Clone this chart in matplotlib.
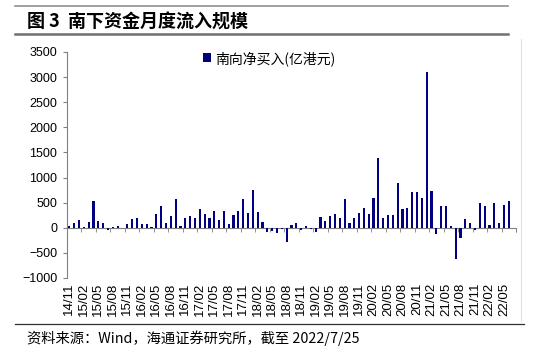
import numpy as np
import pandas as pd
import matplotlib
matplotlib.use("Agg")
import matplotlib.pyplot as plt
from matplotlib.lines import Line2D
import matplotlib.transforms as mtransforms

cjk = ['Noto Sans CJK SC', 'DejaVu Sans']
plt.rcParams['font.family'] = ['Liberation Sans', 'DejaVu Sans']

# monthly southbound net buying, 100m HKD, 2014/11 .. 2022/07
months = pd.period_range("2014-11", "2022-07", freq="M").strftime("%y/%m").tolist()
net_buy = [40, 86, 152, 13, 112, 530, 126, 86, -53, 13, 26, 5,
           66, 172, 185, 79, 66, 20, 271, 437, 99, 225, 582, 33,
           192, 238, 192, 364, 265, 198, 331, 152, 324, 73, 251, 331,
           582, 304, 760, 317, 106, -79, -60, -106, -20, -278, 46, 86,
           -53, 26, -20, -80, 205, 132, 231, 265, 192, 582, 93, 192,
           298, 403, 271, 602, 1395, 192, 258, 258, 900, 370, 403, 705,
           705, 595, 3100, 741, -126, 430, 430, 45, -628, -198, 175, 93,
           -46, 493, 437, 55, 485, 103, 463, 530, 0]
legend_label = "南向净买入(亿港元)"
title = "图 3  南下资金月度流入规模"
source = "资料来源：Wind，海通证券研究所，截至 2022/7/25"

fig = plt.figure(figsize=(5.39, 3.53), dpi=100)
ax = fig.add_axes([0.1243, 0.2125, 0.8330, 0.6402])

x = np.arange(len(months))
ax.bar(x, net_buy, width=0.45, color="#000080", label=legend_label, zorder=3)

ax.set_xlim(-0.5, len(months) - 0.5)
ax.set_ylim(-1000, 3500)
ax.set_yticks(np.arange(-1000, 3501, 500))
ax.tick_params(axis='y', labelsize=9, length=3, color="#808080", pad=4)

# category axis sits at zero, tick marks between every third month
ax.spines['top'].set_visible(False)
ax.spines['right'].set_visible(False)
ax.spines['bottom'].set_position(('data', 0))
ax.spines['bottom'].set_color("#808080")
ax.spines['left'].set_color("#808080")
ax.set_xticks([])
ax.set_xticks(np.append(np.arange(-0.5, len(months), 3), len(months) - 0.5), minor=True)
ax.tick_params(axis='x', which='minor', length=3, color="#808080", direction='out')

# month labels at the bottom of the plot
trans = mtransforms.blended_transform_factory(ax.transData, ax.transAxes)
for i in range(0, len(months), 3):
    ax.text(i, -0.02, months[i], transform=trans, rotation=90,
            ha='center', va='top', fontsize=9.5)

leg = ax.legend(loc='upper left', bbox_to_anchor=(0.29, 1.03), frameon=False,
                prop={'family': cjk, 'size': 10}, handlelength=0.6, handleheight=0.6,
                handletextpad=0.3, borderaxespad=0)

# page decoration
fig.text(0.05, 0.936, title, fontsize=13, fontweight='bold', family=cjk,
         va='center', ha='left')
fig.add_artist(Line2D([0.028, 0.943], [0.983, 0.983], color="#909090", lw=1.2))
fig.add_artist(Line2D([0.028, 0.943], [0.904, 0.904], color="#707070", lw=1.8))
fig.add_artist(Line2D([0.966, 0.966], [0.09, 0.89], color="#e0e0e0", lw=0.8))
fig.add_artist(Line2D([0.028, 0.973], [0.082, 0.082], color="#303030", lw=0.9))
fig.text(0.05, 0.042, source, fontsize=10.3, family=cjk, va='center', ha='left')

fig.savefig("out.png", dpi=100)
